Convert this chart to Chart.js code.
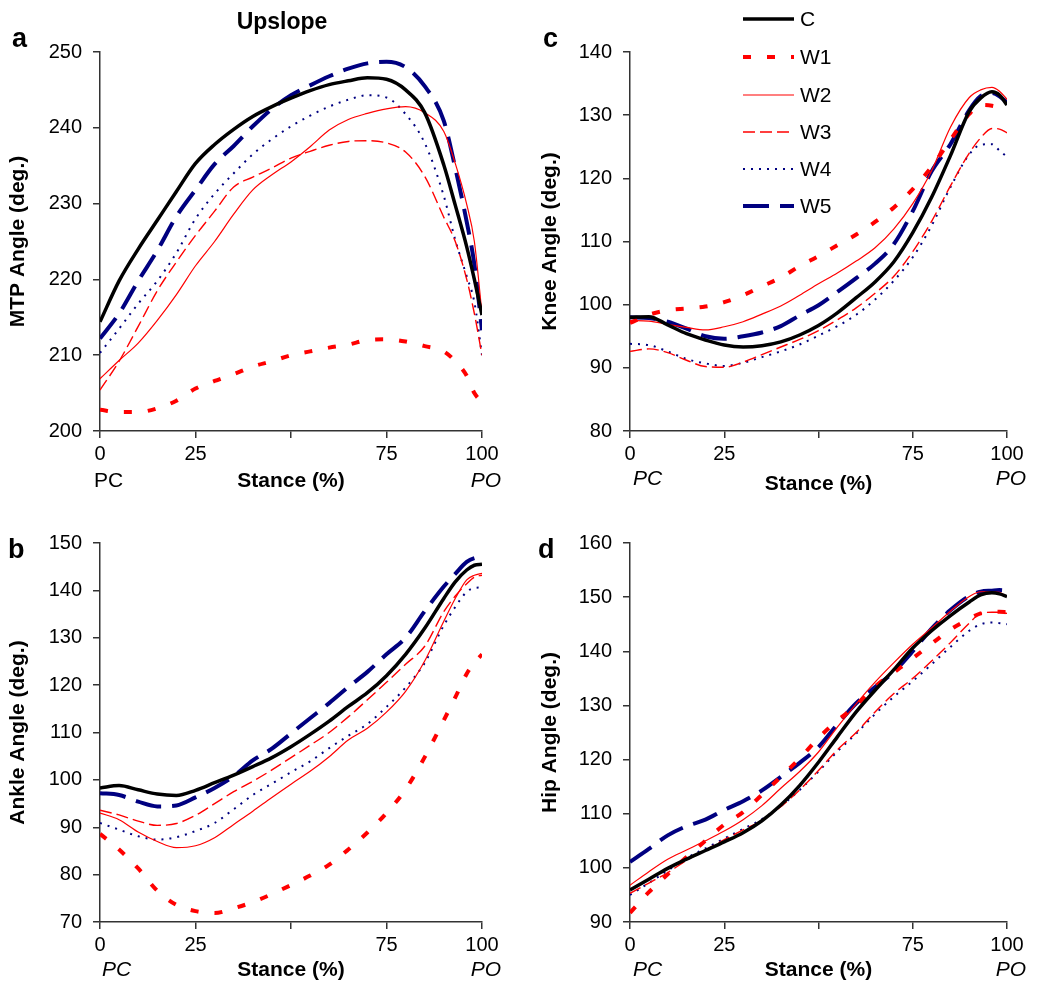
<!DOCTYPE html>
<html>
<head>
<meta charset="utf-8">
<title>Upslope joint angles</title>
<script src="https://cdn.jsdelivr.net/npm/chart.js@4.4.1/dist/chart.umd.min.js"></script>
<style>
  body { margin: 0; background: #fff; }
  #wrap { position: relative; width: 1050px; height: 994px; }
  canvas { position: absolute; }
</style>
</head>
<body>
<div id="wrap">
  <canvas id="mtp" width="525" height="497" style="left:0;top:0"></canvas>
  <canvas id="knee" width="525" height="497" style="left:525px;top:0"></canvas>
  <canvas id="ankle" width="525" height="497" style="left:0;top:497px"></canvas>
  <canvas id="hip" width="525" height="497" style="left:525px;top:497px"></canvas>
</div>
<script>
const FONT = '"Liberation Sans", Arial, Helvetica, sans-serif';

// stance (% of stance phase) and series names
const stance = [0, 5, 10, 15, 20, 25, 30, 35, 40, 45, 50, 55, 60, 65, 70, 75, 80, 85, 90, 93, 96, 98, 100];
const seriesNames = ['C', 'W1', 'W2', 'W3', 'W4', 'W5'];
const xTicks = [0, 25, 50, 75, 100];

// a - MTP angle
const mtpC  = [214.4,219.8,224,227.8,231.6,235.3,237.8,239.8,241.5,242.8,243.9,244.9,245.7,246.2,246.6,246.4,245,242,235.1,229.8,224.3,220,215.3];
const mtpW1 = [202.8,202.5,202.5,203,204,205.6,206.6,207.5,208.5,209.2,210,210.5,211,211.4,212,212.1,211.8,211.2,210.5,209.2,207.3,205,203.8];
const mtpW2 = [206.9,209.3,211.6,214.6,218,221.8,225,228.6,231.8,233.8,235.5,237.5,239.7,241.1,241.9,242.5,242.8,242,239.5,235.3,229.9,225,215.5];
const mtpW3 = [205.4,209.2,213.8,218.5,222.3,225.8,229,232.2,233.5,234.7,236,236.9,237.7,238.2,238.3,238,236.8,233.6,228.2,225,220,215.5,210];
const mtpW4 = [210.3,213.5,216.8,219.8,223.5,228,231.3,234,236.5,238.5,240.2,241.6,242.8,243.7,244.3,244,241.8,238,231,225.2,220.4,217,210];
const mtpW5 = [212.2,215.5,219.8,223.8,228.3,231.8,235.2,237.6,240.2,242.5,244.3,245.6,246.8,247.8,248.5,248.7,248,245.5,240.9,234.7,227.6,222,213.3];

// b - ankle angle
const ankleC  = [98.3,98.8,97.9,97,96.7,97.8,99.4,101,102.8,104.7,107,109.6,112.4,115.5,118.4,122,126.5,132,138.3,141.8,144.3,145.3,145.5];
const ankleW1 = [88.6,85.3,81.3,76.6,73.6,72.3,71.9,72.9,74.2,75.9,77.8,79.8,82.1,85.3,88.9,93,98,104.8,112.6,117.4,122.4,124.7,126.5];
const ankleW2 = [93,91.6,89,87,85.7,86.1,87.8,90.6,93.4,96.3,99.1,101.8,104.9,108.4,110.9,114.3,118.7,125.1,133.5,138.3,142.2,143.2,143.6];
const ankleW3 = [93.6,92.6,91.3,90.4,90.8,92.5,95,97.5,99.7,102.1,104.7,107.3,110,113.3,116.9,120.6,124.4,128.2,135.5,138.8,141.4,142.8,143.2];
const ankleW4 = [90.9,89.5,88.1,87.4,87.9,89.2,90.9,93.8,96.8,99.2,101.6,103.9,106.7,109.3,111.8,115.4,119.5,124.7,132.6,136.5,139.7,140.5,140.6];
const ankleW5 = [97.2,96.8,95.4,94.4,94.6,96.3,98.3,100.8,104.1,106.6,109.8,113,116.2,119.6,122.8,126.5,130,135.6,140.8,143.5,146,146.8,147];

// c - knee angle
const kneeC  = [98,98.1,96.8,95.4,94.4,93.6,93.3,93.5,94.1,95.2,96.7,98.7,101.1,103.6,106.8,111.4,117,123.6,130.6,132.7,133.7,133.2,131.6];
const kneeW1 = [97.1,98.4,99.1,99.4,99.7,100.4,101.5,102.9,104.3,106.1,107.7,109.4,111.1,113.1,115.4,118.3,121.8,126.1,130.2,131.6,131.5,131.2,130.8];
const kneeW2 = [97.5,97.4,96.9,96.4,96,96.5,97.3,98.5,99.8,101.5,103.3,105,106.9,109,112,116,121.2,128.1,132.8,134,134.4,133.8,132.5];
const kneeW3 = [92.6,93,92.4,91.2,90.2,90.1,90.9,92.1,93.3,94.5,95.9,97.6,99.5,101.8,104.5,108.4,113.2,118.8,124,126.4,127.9,127.8,127.2];
const kneeW4 = [93.8,93.6,92.6,91.4,90.7,90.3,90.8,91.7,92.6,93.7,95.1,96.6,98.4,100.8,103.8,107.5,112.5,118.6,123.8,125.3,125.4,124.4,123.4];
const kneeW5 = [98,97.9,97.3,96.2,95,94.6,95,95.6,96.6,98.3,99.9,102,104.2,106.5,109.6,114.8,121.1,125.4,130.8,133,133.5,133,132];

// d - hip angle
const hipC  = [95.9,97.9,99.9,101.6,103.2,104.8,106.5,108.7,111.6,115.2,119.5,124.2,128.8,132.8,136.6,140.6,143.8,146.6,149.1,150.4,150.8,150.6,150.1];
const hipW1 = [91.7,95.5,98.8,102,105,108,110.3,113.5,116.8,120.2,124,127.2,130,133.5,136.1,138.7,141.4,144,146,147,147.3,147.3,147.2];
const hipW2 = [96.8,99.3,101.6,103.3,105,106.8,108.9,111.5,114.7,117.8,121.4,126,130.3,134.3,137.9,141.3,144.3,147.4,150.1,151,151,150.9,150.1];
const hipW3 = [95.3,97.2,99.1,101.4,103.3,105.2,107,108.8,111.3,114.4,118,121.8,125,128.8,132.2,135,138.2,141.6,145.2,147,147.2,147.2,147];
const hipW4 = [95,97.2,99.5,101.8,103.6,105.4,107.2,109,111.4,114.4,117.8,121.5,124.8,128.4,131.6,134.5,137.6,140.8,143.8,145,145.3,145.2,145];
const hipW5 = [101.1,103.5,106,107.7,108.9,110.7,112.3,114.3,116.8,119.4,122.3,126.5,130.4,133.4,136.2,140,144.2,147.6,150.2,151,151.2,151.3,151.2];

// line styles per condition
const lineStyle = {
  C:  { color: '#000000', width: 3.5, dash: [] },
  W1: { color: '#ff0000', width: 4,   dash: [8, 16] },
  W2: { color: '#ff0000', width: 1.2, dash: [] },
  W3: { color: '#ff0000', width: 1.4, dash: [12, 5] },
  W4: { color: '#000080', width: 2,   dash: [2, 6] },
  W5: { color: '#000080', width: 4,   dash: [26, 11] }
};

function buildDatasets(values) {
  return seriesNames.map((name, i) => ({
    label: name,
    data: stance.map((s, j) => ({ x: s, y: values[i][j] })),
    borderColor: lineStyle[name].color,
    borderWidth: lineStyle[name].width,
    borderDash: lineStyle[name].dash,
    borderCapStyle: 'butt',
    pointRadius: 0,
    fill: false,
    cubicInterpolationMode: 'monotone'
  }));
}

// panel letters, PC / PO labels, heading and legend
const extraText = {
  id: 'extraText',
  afterDraw(chart, args, o) {
    const ctx = chart.ctx;
    const xs = chart.scales.x;
    ctx.save();
    ctx.fillStyle = '#000';
    ctx.textBaseline = 'alphabetic';
    ctx.textAlign = 'left';
    ctx.font = 'bold 27px ' + FONT;
    ctx.fillText(o.letter, o.letterX, o.letterY);
    if (o.heading) {
      ctx.font = 'bold 23px ' + FONT;
      ctx.textAlign = 'center';
      ctx.fillText(o.heading, 282, 29);
    }
    ctx.textBaseline = 'middle';
    ctx.textAlign = 'left';
    ctx.font = (o.pcItalic ? 'italic ' : '') + '21px ' + FONT;
    ctx.fillText('PC', xs.getPixelForValue(0) + o.pcDx, o.endY);
    ctx.textAlign = 'center';
    ctx.font = 'italic 21px ' + FONT;
    ctx.fillText('PO', xs.getPixelForValue(100) + 4, o.endY);
    if (o.legend) {
      const rows = [19, 57, 95, 132, 169, 206];
      chart.data.datasets.forEach((ds, i) => {
        ctx.beginPath();
        ctx.strokeStyle = ds.borderColor;
        ctx.lineWidth = ds.borderWidth;
        ctx.setLineDash(ds.borderDash);
        ctx.lineCap = 'butt';
        ctx.moveTo(218, rows[i]);
        ctx.lineTo(269, rows[i]);
        ctx.stroke();
        ctx.setLineDash([]);
        ctx.font = '21px ' + FONT;
        ctx.textAlign = 'left';
        ctx.fillText(ds.label, 275, rows[i] + 1);
      });
    }
    ctx.restore();
  }
};

const panels = [
  { id: 'mtp', values: [mtpC, mtpW1, mtpW2, mtpW3, mtpW4, mtpW5], yMin: 200, yMax: 250,
    yTitle: 'MTP Angle (deg.)', letter: 'a', letterX: 12, letterY: 47, padTop: 52, xHeight: 66,
    yWidth: 100, yTitlePad: 6, xTitlePad: 3, pcItalic: false, pcDx: -6, endY: 481, heading: 'Upslope' },
  { id: 'knee', values: [kneeC, kneeW1, kneeW2, kneeW3, kneeW4, kneeW5], yMin: 80, yMax: 140,
    yTitle: 'Knee Angle (deg.)', letter: 'c', letterX: 18, letterY: 47, padTop: 52, xHeight: 66,
    yWidth: 105, yTitlePad: 13, xTitlePad: 0, pcItalic: true, pcDx: 3, endY: 479.5, legend: true },
  { id: 'ankle', values: [ankleC, ankleW1, ankleW2, ankleW3, ankleW4, ankleW5], yMin: 70, yMax: 150,
    yTitle: 'Ankle Angle (deg.)', letter: 'b', letterX: 8, letterY: 61, padTop: 46, xHeight: 72,
    yWidth: 100, yTitlePad: 6, xTitlePad: 11, pcItalic: true, pcDx: 2, endY: 473.5 },
  { id: 'hip', values: [hipC, hipW1, hipW2, hipW3, hipW4, hipW5], yMin: 90, yMax: 160,
    yTitle: 'Hip Angle (deg.)', letter: 'd', letterX: 13, letterY: 61, padTop: 46, xHeight: 72,
    yWidth: 105, yTitlePad: 13, xTitlePad: 11, pcItalic: true, pcDx: 3, endY: 473.5 }
];

const axisColor = '#333';

panels.forEach(p => {
  new Chart(document.getElementById(p.id), {
    type: 'line',
    data: { datasets: buildDatasets(p.values) },
    plugins: [extraText],
    options: {
      responsive: false,
      animation: false,
      devicePixelRatio: 1,
      layout: { padding: { left: 0, right: 43, top: p.padTop, bottom: 0 } },
      plugins: {
        legend: { display: false },
        tooltip: { enabled: false },
        extraText: p
      },
      scales: {
        x: {
          type: 'linear', min: 0, max: 100,
          afterBuildTicks(scale) { scale.ticks = xTicks.map(v => ({ value: v })); },
          afterFit(scale) { scale.height = p.xHeight; },
          ticks: {
            callback: v => (v === 50 ? '' : String(v)),
            font: { family: FONT, size: 20 }, color: '#000', padding: 4, maxRotation: 0, autoSkip: false
          },
          grid: { drawOnChartArea: false, drawTicks: true, tickLength: 7, color: axisColor, lineWidth: 1.5 },
          border: { display: true, color: axisColor, width: 1.5 },
          title: { display: true, text: 'Stance (%)', color: '#000',
                   font: { family: FONT, size: 21, weight: 'bold' },
                   padding: { top: 0, bottom: p.xTitlePad } }
        },
        y: {
          min: p.yMin, max: p.yMax,
          afterFit(scale) { scale.width = p.yWidth; },
          ticks: { stepSize: 10, font: { family: FONT, size: 20 }, color: '#000', padding: 11 },
          grid: { drawOnChartArea: false, drawTicks: true, tickLength: 7, color: axisColor, lineWidth: 1.5 },
          border: { display: true, color: axisColor, width: 1.5 },
          title: { display: true, text: p.yTitle, color: '#000',
                   font: { family: FONT, size: 21, weight: 'bold' },
                   padding: { top: p.yTitlePad, bottom: 0 } }
        }
      }
    }
  });
});
</script>
</body>
</html>
